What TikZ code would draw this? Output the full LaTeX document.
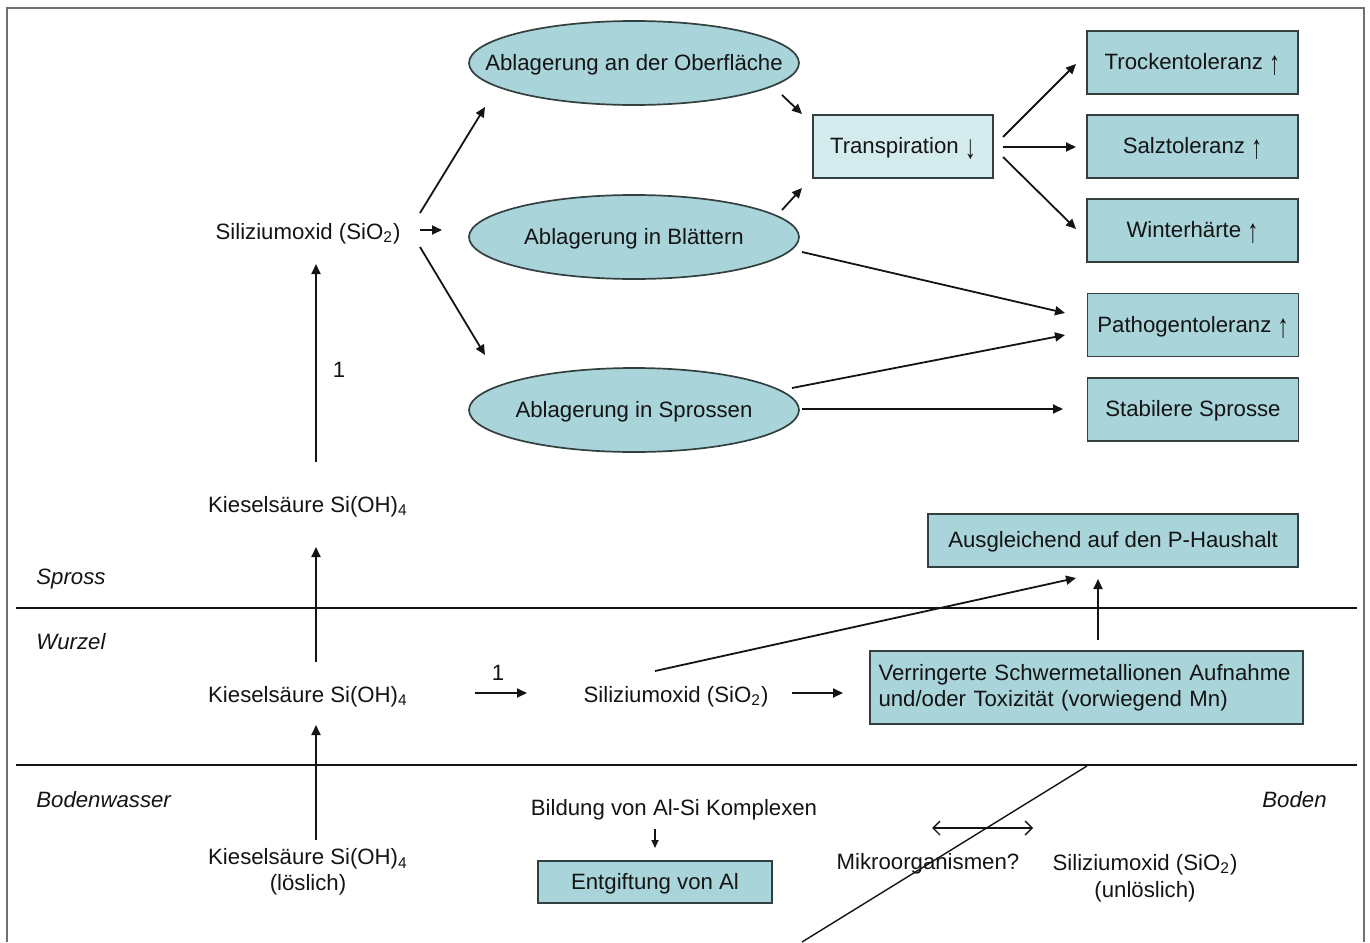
\documentclass[tikz,border=0pt]{standalone}
\usepackage{fontspec}
\setmainfont{Liberation Sans}
\usetikzlibrary{arrows.meta,shapes.geometric}
\definecolor{boxfill}{HTML}{A8D4DA}
\definecolor{lightfill}{HTML}{D5ECEF}
\definecolor{boxline}{HTML}{33403F}
\definecolor{framegray}{HTML}{707070}
\definecolor{ink}{HTML}{141414}
\newcommand\myup{\raisebox{-0.22em}{\scalebox{1}[1.5]{↑}}}
\newcommand\mydown{\raisebox{-0.22em}{\scalebox{1}[1.5]{↓}}}
\begin{document}
\begin{tikzpicture}[x=0.5pt,y=-0.5pt,
  every node/.style={font=\fontsize{11.1}{13}\selectfont, text=ink, inner sep=0pt},
  one/.style={text height=0.72em, text depth=0pt},
  boxbase/.style={rectangle, draw=boxline, line width=0.85pt, fill=boxfill},
  tealbox/.style={boxbase, one},
  rbox/.style={tealbox, minimum width=105.5pt, minimum height=31.5pt},
  tealell/.style={one, ellipse, draw=boxline, line width=0.85pt, fill=boxfill, minimum width=165pt, minimum height=42pt},
  region/.style={one, font=\fontsize{11.1}{13}\selectfont\itshape},
  arr/.style={-{Triangle[length=5pt,width=4.5pt]}, line width=0.9pt, draw=ink},
  sep/.style={line width=0.8pt, draw=ink},
]
\useasboundingbox (0,0) rectangle (1370,942);
% frame
\draw[framegray, line width=1pt] (7,942) -- (7,8) -- (1364,8) -- (1364,942);
% separators
\draw[sep] (16,608) -- (1357,608);
\draw[sep] (16,765) -- (1357,765);
\draw[ink, line width=0.7pt] (1087,766) -- (802,942);

% nodes
\node[tealell] (e1) at (634,63) {\makebox[0pt]{Ablagerung an der Oberfläche}};
\node[tealell] (e2) at (634,237) {\makebox[0pt]{Ablagerung in Blättern}};
\node[tealell] (e3) at (634,410) {\makebox[0pt]{Ablagerung in Sprossen}};
\node[tealbox, fill=lightfill, minimum width=90pt, minimum height=31.5pt] (tr) at (903,146.5) {Transpiration \mydown};
\node[rbox] (tt) at (1192.5,62.5) {Trockentoleranz \myup};
\node[rbox] (st) at (1192.5,146.5) {Salztoleranz \myup};
\node[rbox] (wh) at (1192.5,230.5) {Winterhärte \myup};
\node[rbox] (pt) at (1193,325) {Pathogentoleranz \myup};
\node[rbox] (ss) at (1193,409.5) {Stabilere Sprosse};

\node[one] (sio) at (308,232) {Siliziumoxid (SiO\textsubscript{2})};
\node[one] (kie1) at (308,505) {Kieselsäure Si(OH)\textsubscript{4}};
\node[one] (kie2) at (308,695) {Kieselsäure Si(OH)\textsubscript{4}};
\node[align=center] (kie3) at (308,872) {Kieselsäure Si(OH)\textsubscript{4}\\(löslich)};
\node[one] (n1a) at (339,370) {1};
\node[one] (n1b) at (498,673) {1};
\node[one] (siom) at (676,695) {Siliziumoxid (SiO\textsubscript{2})};
\node[boxbase, minimum width=216.5pt, minimum height=36.5pt, text width=208pt, inner xsep=4.25pt, align=left] (ver) at (1086.5,687.5) {Verringerte Schwermetallionen Aufnahme\\und/oder Toxizität (vorwiegend Mn)};
\node[tealbox, minimum width=185pt, minimum height=26.5pt] (aus) at (1113,540.5) {Ausgleichend auf den P-Haushalt};
\node[one] (bil) at (674,808) {Bildung von Al-Si Komplexen};
\node[tealbox, minimum width=117pt, minimum height=21pt] (ent) at (655,882) {Entgiftung von Al};
\node[one] (mik) at (928,862) {Mikroorganismen?};
\node[align=center] (sio3) at (1145,878) {Siliziumoxid (SiO\textsubscript{2})\\[0.5pt](unlöslich)};

\node[region, anchor=west] (lspross) at (36,577) {Spross};
\node[region, anchor=west] (lwurzel) at (36,642) {Wurzel};
\node[region, anchor=west] (lbw) at (36,800) {Bodenwasser};
\node[region, anchor=east] (lboden) at (1327,800) {Boden};

% connector end points
\coordinate (sioA) at (420,213); \coordinate (e1A) at (485,107);
\coordinate (sioB) at (420,230); \coordinate (e2B) at (442,230);
\coordinate (sioC) at (420,247); \coordinate (e3C) at (485,355);
\coordinate (e1D) at (782,95);   \coordinate (trD) at (802,114);
\coordinate (e2E) at (782,210);  \coordinate (trE) at (802,188);
\coordinate (trF) at (1003,137); \coordinate (ttF) at (1076,64);
\coordinate (trG) at (1003,147); \coordinate (stG) at (1076,147);
\coordinate (trH) at (1003,157); \coordinate (whH) at (1076,229);
\coordinate (e2I) at (802,252);  \coordinate (ptI) at (1065,313);
\coordinate (e3J) at (792,388);  \coordinate (ptJ) at (1065,335);
\coordinate (e3K) at (802,409);  \coordinate (ssK) at (1063,409);
\coordinate (kie1L) at (316,462); \coordinate (sioL) at (316,264);
\coordinate (kie2M) at (316,662); \coordinate (kie1M) at (316,547);
\coordinate (kie3N) at (316,840); \coordinate (kie2N) at (316,725);
\coordinate (kie2O) at (475,693); \coordinate (siomO) at (527,693);
\coordinate (siomP) at (792,693); \coordinate (verP) at (843,693);
\coordinate (siomQ) at (655,671); \coordinate (ausQ) at (1076,578);
\coordinate (verR) at (1098,640); \coordinate (ausR) at (1098,579);
\coordinate (bilS) at (655,829);  \coordinate (entS) at (655,848);
\coordinate (mikT) at (932,828);  \coordinate (sio3T) at (1033,828);

\draw[arr] (sioA) -- (e1A);
\draw[arr] (sioB) -- (e2B);
\draw[arr] (sioC) -- (e3C);
\draw[arr] (e1D) -- (trD);
\draw[arr] (e2E) -- (trE);
\draw[arr] (trF) -- (ttF);
\draw[arr] (trG) -- (stG);
\draw[arr] (trH) -- (whH);
\draw[arr] (e2I) -- (ptI);
\draw[arr] (e3J) -- (ptJ);
\draw[arr] (e3K) -- (ssK);
\draw[arr] (kie1L) -- (sioL);
\draw[arr] (kie2M) -- (kie1M);
\draw[arr] (kie3N) -- (kie2N);
\draw[arr] (kie2O) -- (siomO);
\draw[arr] (siomP) -- (verP);
\draw[arr] (siomQ) -- (ausQ);
\draw[arr] (verR) -- (ausR);
\draw[-{Triangle[length=4pt,width=3.5pt]}, line width=0.8pt, ink] (bilS) -- (entS);
\draw[{Straight Barb[length=3.5pt,width=7pt]}-{Straight Barb[length=3.5pt,width=7pt]}, line width=0.7pt, ink] (mikT) -- (sio3T);
\end{tikzpicture}
\end{document}
